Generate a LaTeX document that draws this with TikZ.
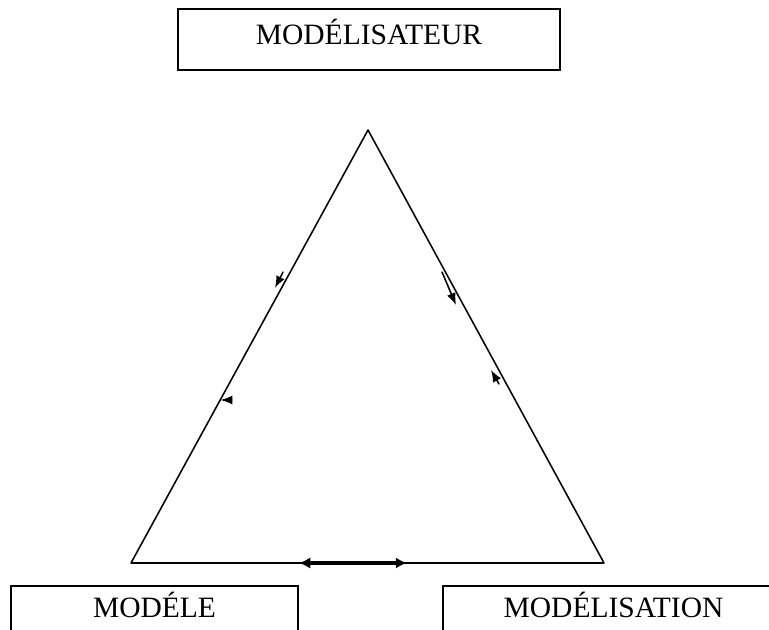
\documentclass[tikz,border=0pt]{standalone}
\usepackage{fontspec}
\setmainfont{Liberation Serif}
\usepackage{tikz}
\usepackage{tkz-euclide}
\usetikzlibrary{calc,arrows.meta}

\tikzset{
  pole/.style={draw, line width=1.1pt, inner sep=0pt, text height=0.66em, text depth=0pt,
    font=\fontsize{21}{25}\selectfont},
  flow/.style={line width=1.1pt, -{Latex[length=8.5pt,width=6.5pt]}},
}

\begin{document}
\begin{tikzpicture}[scale=1]
                \useasboundingbox (0,0) rectangle (19.225,15.725);
                \clip (0,0) rectangle (19.225,15.725);
                % the three poles
                \node[pole, minimum width=9.55cm, minimum height=1.525cm] (modelisateur) at (9.225,14.7375) {MODÉLISATEUR};
                \node[pole, minimum width=7.175cm, minimum height=1.35cm] (modele) at (3.8625,0.4) {MODÉLE};
                \node[pole, minimum width=8.525cm, minimum height=1.35cm] (modelisation) at (15.3375,0.4) {MODÉLISATION};
                % triangle
                \tkzDefPoint(9.2,12.475){A}
                \tkzDefPoint(3.275,1.65){B}
                \tkzDefPoint(15.1,1.65){C}
                \tkzDrawPolygon[line width=1.1pt](A,B,C)
                % arrows along the sides
                \tkzDefPoint(7.075,8.925){L1}
                \tkzDefPoint(6.875,8.525){L2}
                \tkzDefPoint(5.78,5.725){L3}
                \tkzDefPoint(5.5125,5.725){L4}
                \tkzDefPoint(11.05,8.925){R1}
                \tkzDefPoint(11.4,8.1){R2}
                \tkzDefPoint(12.475,6.125){R3}
                \tkzDefPoint(12.275,6.475){R4}
                \tkzDefPoint(7.475,1.65){D1}
                \tkzDefPoint(10.175,1.65){D2}
                \tkzDrawSegment[flow](L1,L2)
                \tkzDrawSegment[flow](L3,L4)
                \tkzDrawSegment[flow](R1,R2)
                \tkzDrawSegment[flow](R3,R4)
                %\tkzDrawSegment[flow](D2,D1)
                \tkzDrawSegment[line width=2.4pt, {Latex[length=8pt,width=8pt]}-{Latex[length=8pt,width=8pt]}](D1,D2)
            \end{tikzpicture}
\end{document}
